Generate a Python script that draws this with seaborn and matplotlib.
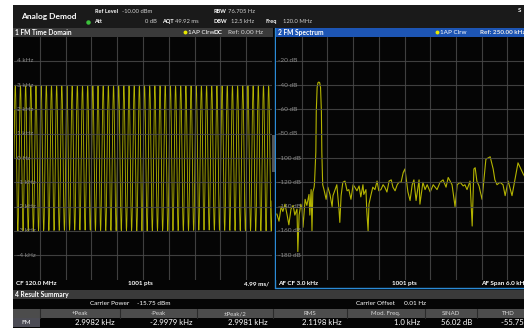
import numpy as np
import pandas as pd
import matplotlib
matplotlib.use("Agg")
import matplotlib.pyplot as plt
import seaborn as sns
from matplotlib.patches import Rectangle

# ---------------- measurement values ----------------
mod_freq_khz = 1.0
peak_pos_khz = 2.9982
peak_neg_khz = -2.9979
sweep_ms = 49.9          # 4.99 ms/div x 10 div
n_points = 1001

# FM spectrum trace (AF 0 .. 6 kHz)
spec_freq_khz = [0.02, 0.07, 0.12, 0.16, 0.21, 0.26, 0.30, 0.35, 0.40, 0.44,
                 0.49, 0.51, 0.54, 0.58, 0.61, 0.63, 0.68, 0.72, 0.77, 0.79,
                 0.82, 0.84, 0.86, 0.89, 0.90, 0.93, 0.94, 0.96, 0.98, 1.00,
                 1.02, 1.04, 1.06, 1.07, 1.09, 1.12, 1.17, 1.21, 1.26, 1.31,
                 1.33, 1.38, 1.42, 1.47, 1.49, 1.52, 1.56, 1.61, 1.66, 1.70,
                 1.75, 1.80, 1.84, 1.89, 1.94, 1.98, 2.03, 2.05, 2.10, 2.12,
                 2.15, 2.17, 2.22, 2.26, 2.31, 2.36, 2.40, 2.45, 2.50, 2.54,
                 2.59, 2.64, 2.69, 2.73, 2.78, 2.83, 2.87, 2.92, 2.97, 3.01,
                 3.08, 3.13, 3.18, 3.22, 3.27, 3.34, 3.36, 3.43, 3.48, 3.53,
                 3.60, 3.67, 3.76, 3.83, 3.90, 3.97, 4.02, 4.11, 4.18, 4.23,
                 4.30, 4.37, 4.41, 4.46, 4.53, 4.58, 4.62, 4.65, 4.69, 4.74,
                 4.81, 4.90, 5.00, 5.07, 5.11, 5.16, 5.23, 5.30, 5.35, 5.42,
                 5.51, 5.65, 5.77, 5.88, 6.00]
spec_level_db = [-146, -152, -140, -144, -138, -147, -155, -142, -139, -147,
                 -142, -177, -147, -138, -142, -157, -134, -139, -130, -147,
                 -126, -160, -128, -124, -120, -95, -62, -42, -38, -37.5,
                 -38, -42, -62, -95, -122, -126, -134, -124, -130, -140,
                 -131, -126, -122, -142, -153, -131, -120, -119, -127, -126,
                 -134, -122, -124, -127, -123, -132, -122, -130, -126, -144,
                 -160, -138, -130, -124, -126, -119, -127, -126, -122, -124,
                 -128, -119, -118, -124, -127, -122, -120, -120, -112, -109,
                 -128, -135, -122, -118, -135, -118, -138, -120, -126, -122,
                 -128, -122, -126, -120, -118, -124, -116, -122, -140, -122,
                 -120, -123, -122, -126, -119, -156, -109, -108, -119, -123,
                 -134, -101, -99, -109, -118, -122, -120, -122, -131, -119,
                 -131, -104, -113, -120, -122]

td_ticks = [4, 3, 2, 1, 0, -1, -2, -3, -4]
td_tick_labels = ["4 kHz", "3 kHz", "2 kHz", "1 kHz", "0 Hz",
                  "-1 kHz", "-2 kHz", "-3 kHz", "-4 kHz"]
sp_ticks = [-20, -40, -60, -80, -100, -120, -140, -160, -180]
sp_tick_labels = ["-20 dB", "-40 dB", "-60 dB", "-80 dB", "-100 dB",
                  "-120 dB", "-140 dB", "-160 dB", "-180 dB"]

result_headers = ["+Peak", "-Peak", "\u00b1Peak/2", "RMS", "Mod. Freq.", "SINAD", "THD"]
result_values = ["2.9982 kHz", "-2.9979 kHz", "2.9981 kHz", "2.1198 kHz",
                 "1.0 kHz", "56.02 dB", "-55.75 dB"]

# ---------------- styling ----------------
sns.set_theme(style="dark")
plt.rcParams["font.family"] = ["Lato", "DejaVu Sans"]

W, H = 524, 332
TRACE = "#b4b400"
GRID = "#4a4a4a"
LABEL = "#8a8a8a"
BAR_GRAY = "#3a3a3a"
BLUE_BAR = "#1d55b4"
BLUE_EDGE = "#2b8ad6"

fig = plt.figure(figsize=(W / 100, H / 100), dpi=100)
fig.patch.set_facecolor("white")

bg = fig.add_axes([0, 0, 1, 1], zorder=0)
bg.set_xlim(0, W)
bg.set_ylim(H, 0)
bg.axis("off")


def rect(x0, y0, x1, y1, color, **kw):
    bg.add_patch(Rectangle((x0, y0), x1 - x0, y1 - y0, facecolor=color,
                           edgecolor="none", **kw))


def txt(x, y, s, size=5.5, color="white", weight="normal", ha="left", **kw):
    bg.text(x, y, s, fontsize=size, color=color, fontweight=weight,
            ha=ha, va="center", **kw)


# instrument screen background
rect(13, 5, W, 328, "#050505")
rect(13, 5, W, 28, "#1a1a1a")

# header
txt(21, 16, "Analog Demod", size=6.0, weight="bold")
txt(95, 11.5, "Ref Level", size=4.0, weight="bold")
txt(122, 11.5, "-10.00 dBm", size=4.2, color="#d0d0d0")
bg.plot([87.5], [21.5], "o", ms=2.2, color="#3cc23c")
txt(94, 21.5, "Att", size=4.0, weight="bold")
txt(157, 21.5, "0 dB", size=4.2, color="#d0d0d0", ha="right")
txt(162, 21.5, "AQT", size=4.0, weight="bold")
txt(175, 21.5, "49.92 ms", size=4.2, color="#d0d0d0")
txt(213, 11.5, "RBW", size=4.0, weight="bold")
txt(228, 11.5, "76.705 Hz", size=4.2, color="#d0d0d0")
txt(213, 21.5, "DBW", size=4.0, weight="bold")
txt(231, 21.5, "12.5 kHz", size=4.2, color="#d0d0d0")
txt(266, 21.5, "Freq", size=4.0, weight="bold")
txt(283, 21.5, "120.0 MHz", size=4.2, color="#d0d0d0")
txt(518, 10, "S", size=4.4, weight="bold")

# window title bars
rect(13, 28, 273, 36.5, BAR_GRAY)
txt(15, 32.3, "1 FM Time Domain", size=4.8, weight="bold")
bg.plot([184.5], [32.3], "o", ms=1.8, color="#e8e800")
txt(188, 32.3, "1AP Clrw", size=4.6)
txt(214, 32.3, "DC", size=4.6, weight="bold")
txt(228, 32.3, "Ref: 0.00 Hz", size=4.6, color="#d8d8d8")

rect(275, 28, W, 36.5, BLUE_BAR)
txt(278, 32.3, "2 FM Spectrum", size=4.8, weight="bold")
bg.plot([436.5], [32.3], "o", ms=1.8, color="#e8e800")
txt(440, 32.3, "1AP Clrw", size=4.6)
txt(480, 32.3, "Ref: 250.00 kHz", size=4.6, weight="bold", color="#e8e8e8")

# footers
txt(16, 283.5, "CF 120.0 MHz", size=4.6, weight="bold")
txt(140, 283.5, "1001 pts", size=4.6, weight="bold", ha="center")
txt(269, 283.5, "4.99 ms/", size=4.6, weight="bold", ha="right")
txt(278, 283.5, "AF CF 3.0 kHz", size=4.6, weight="bold")
txt(404, 283.5, "1001 pts", size=4.6, weight="bold", ha="center")
txt(481, 283.5, "AF Span 6.0 kHz", size=4.6, weight="bold")

# blue frame of the active window
bg.plot([275, 275], [28, 288], color=BLUE_EDGE, lw=1.0)
bg.plot([275, W], [288, 288], color=BLUE_EDGE, lw=1.0)
rect(270.5, 135, 275, 172, "#6a6a6a", alpha=0.8)

# result summary
rect(13, 290, W, 299, BAR_GRAY)
txt(15, 294.5, "4 Result Summary", size=4.8, weight="bold")
txt(90, 303.5, "Carrier Power", size=4.6)
txt(137, 303.5, "-15.75 dBm", size=4.6)
txt(356, 303.5, "Carrier Offset", size=4.6)
txt(404, 303.5, "0.01 Hz", size=4.6)

col_edges = [13, 40, 120, 197, 273, 347, 425, 477, 540]
rect(13, 309, W, 318, "#4c4c4c")
rect(13, 318, 40, 327, "#4c4c55")
for xe in col_edges[1:-1]:
    bg.plot([xe, xe], [309, 318], color="#2a2a2a", lw=0.8)
txt(26.5, 322.5, "FM", size=4.6, ha="center")
for i, (h, v) in enumerate(zip(result_headers, result_values)):
    x0, x1 = col_edges[i + 1], col_edges[i + 2]
    txt((x0 + x1) / 2, 313.5, h, size=4.4, color="#d8d8d8", ha="center")
    txt(x1 - 5, 322.5, v, size=5.6, ha="right")


# ---------------- plot windows ----------------
def window(x0, y0, x1, y1):
    ax = fig.add_axes([x0 / W, 1 - y1 / H, (x1 - x0) / W, (y1 - y0) / H],
                      zorder=2)
    ax.set_facecolor("#050505")
    for s in ax.spines.values():
        s.set_visible(False)
    ax.tick_params(left=False, bottom=False, labelleft=False, labelbottom=False)
    return ax


# time domain
ax1 = window(14, 36.5, 272, 279.5)
t_ms = np.linspace(0, sweep_ms, n_points)
amp = (peak_pos_khz - peak_neg_khz) / 2
mid = (peak_pos_khz + peak_neg_khz) / 2
fm_dev = mid + amp * np.sin(2 * np.pi * mod_freq_khz * t_ms)
td = pd.DataFrame({"t": t_ms, "dev": fm_dev})
sns.lineplot(data=td, x="t", y="dev", ax=ax1, color=TRACE, lw=0.6,
             estimator=None, sort=False, zorder=2)
ax1.set_xlim(0, sweep_ms)
ax1.set_ylim(-5, 5)
for k in range(1, 10):
    ax1.axvline(sweep_ms * k / 10, color=GRID, lw=0.8, alpha=0.85, zorder=3)
for yv, lab in zip(td_ticks, td_tick_labels):
    ax1.axhline(yv, color=GRID, lw=0.8, alpha=0.85, zorder=3)
    ax1.text(0.012, yv, lab, transform=ax1.get_yaxis_transform(),
             fontsize=4.6, color=LABEL, va="center", ha="left", zorder=4)
ax1.set_xlabel("")
ax1.set_ylabel("")

# spectrum
ax2 = window(276, 36.5, 533, 279.5)
sp = pd.DataFrame({"f": spec_freq_khz, "lvl": spec_level_db})
sns.lineplot(data=sp, x="f", y="lvl", ax=ax2, color=TRACE, lw=0.8,
             estimator=None, sort=False, zorder=2)
ax2.set_xlim(0, 6)
ax2.set_ylim(-200, 0)
for k in range(1, 10):
    ax2.axvline(0.6 * k, color=GRID, lw=0.8, alpha=0.85, zorder=3)
for yv, lab in zip(sp_ticks, sp_tick_labels):
    ax2.axhline(yv, color=GRID, lw=0.8, alpha=0.85, zorder=3)
    ax2.text(0.008, yv, lab, transform=ax2.get_yaxis_transform(),
             fontsize=4.6, color=LABEL, va="center", ha="left", zorder=4)
ax2.set_xlabel("")
ax2.set_ylabel("")

fig.savefig("out.png", dpi=100, facecolor=fig.get_facecolor())
